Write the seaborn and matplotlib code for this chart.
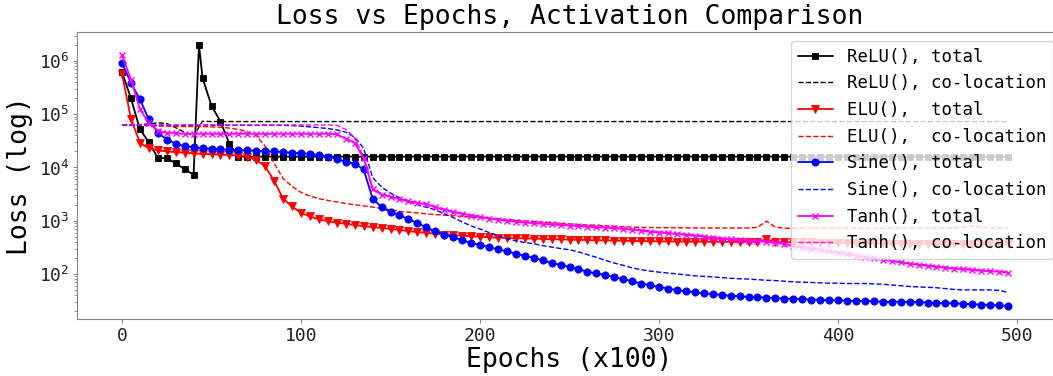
import matplotlib
matplotlib.use("Agg")
import matplotlib.pyplot as plt
import seaborn as sns

# ---------------- data ----------------
epochs = list(range(0, 500, 5))            # x (in units of 100 epochs)
relu_epochs = [0, 5, 10, 15, 20, 25, 30, 35, 40, 43] + list(range(45, 500, 5))

relu_total = [6.2e5, 2.0e5, 5.2e4, 3.0e4, 1.5e4, 1.5e4, 1.2e4, 9.3e3, 7.3e3, 2.0e6,
              4.8e5, 1.45e5, 7.3e4, 2.8e4, 1.6e4, 1.6e4, 1.6e4, 1.6e4, 1.6e4, 1.6e4,
              1.6e4, 1.6e4, 1.6e4, 1.6e4, 1.6e4, 1.6e4, 1.6e4, 1.6e4, 1.6e4, 1.6e4,
              1.6e4, 1.6e4, 1.6e4, 1.6e4, 1.6e4, 1.6e4, 1.6e4, 1.6e4, 1.6e4, 1.6e4,
              1.6e4, 1.6e4, 1.6e4, 1.6e4, 1.6e4, 1.6e4, 1.6e4, 1.6e4, 1.6e4, 1.6e4,
              1.6e4, 1.6e4, 1.6e4, 1.6e4, 1.6e4, 1.6e4, 1.6e4, 1.6e4, 1.6e4, 1.6e4,
              1.6e4, 1.6e4, 1.6e4, 1.6e4, 1.6e4, 1.6e4, 1.6e4, 1.6e4, 1.6e4, 1.6e4,
              1.6e4, 1.6e4, 1.6e4, 1.6e4, 1.6e4, 1.6e4, 1.6e4, 1.6e4, 1.6e4, 1.6e4,
              1.6e4, 1.6e4, 1.6e4, 1.6e4, 1.6e4, 1.6e4, 1.6e4, 1.6e4, 1.6e4, 1.6e4,
              1.6e4, 1.6e4, 1.6e4, 1.6e4, 1.6e4, 1.6e4, 1.6e4, 1.6e4, 1.6e4, 1.6e4,
              1.6e4]

relu_coloc = [6.3e4, 6.3e4, 6.4e4, 6.6e4, 6.9e4, 6.7e4, 5.6e4, 4.6e4, 3.9e4, 7.4e4,
              7.3e4, 7.3e4, 7.3e4, 7.3e4, 7.3e4, 7.3e4, 7.3e4, 7.3e4, 7.3e4, 7.3e4,
              7.3e4, 7.3e4, 7.3e4, 7.3e4, 7.3e4, 7.3e4, 7.3e4, 7.3e4, 7.3e4, 7.3e4,
              7.3e4, 7.3e4, 7.3e4, 7.3e4, 7.3e4, 7.3e4, 7.3e4, 7.3e4, 7.3e4, 7.3e4,
              7.3e4, 7.3e4, 7.3e4, 7.3e4, 7.3e4, 7.3e4, 7.3e4, 7.3e4, 7.3e4, 7.3e4,
              7.3e4, 7.3e4, 7.3e4, 7.3e4, 7.3e4, 7.3e4, 7.3e4, 7.3e4, 7.3e4, 7.3e4,
              7.3e4, 7.3e4, 7.3e4, 7.3e4, 7.3e4, 7.3e4, 7.3e4, 7.3e4, 7.3e4, 7.3e4,
              7.3e4, 7.3e4, 7.3e4, 7.3e4, 7.3e4, 7.3e4, 7.3e4, 7.3e4, 7.3e4, 7.3e4,
              7.3e4, 7.3e4, 7.3e4, 7.3e4, 7.3e4, 7.3e4, 7.3e4, 7.3e4, 7.3e4, 7.3e4,
              7.3e4, 7.3e4, 7.3e4, 7.3e4, 7.3e4, 7.3e4, 7.3e4, 7.3e4, 7.3e4, 7.3e4]

elu_total = [5.7e5, 8.3e4, 2.9e4, 2.3e4, 2.1e4, 2.0e4, 1.95e4, 1.9e4, 1.85e4, 1.8e4,
             1.78e4, 1.75e4, 1.72e4, 1.68e4, 1.6e4, 1.38e4, 1.05e4, 5.6e3, 2.6e3, 1.85e3,
             1.4e3, 1.2e3, 1.06e3, 9.8e2, 9.2e2, 8.7e2, 8.3e2, 7.9e2, 7.6e2, 7.3e2,
             7.0e2, 6.7e2, 6.4e2, 6.1e2, 5.9e2, 5.7e2, 5.5e2, 5.4e2, 5.2e2, 5.1e2,
             5.0e2, 4.9e2, 4.8e2, 4.75e2, 4.7e2, 4.65e2, 4.6e2, 4.55e2, 4.5e2, 4.45e2,
             4.4e2, 4.37e2, 4.34e2, 4.3e2, 4.27e2, 4.24e2, 4.2e2, 4.18e2, 4.15e2, 4.12e2,
             4.1e2, 4.08e2, 4.06e2, 4.05e2, 4.04e2, 4.03e2, 4.02e2, 4.01e2, 4.0e2, 4.0e2,
             4.0e2, 4.0e2, 4.5e2, 3.95e2, 3.94e2, 3.93e2, 3.92e2, 3.9e2, 3.88e2, 3.86e2,
             3.84e2, 3.82e2, 3.8e2, 3.78e2, 3.76e2, 3.74e2, 3.72e2, 3.7e2, 3.69e2, 3.68e2,
             3.67e2, 3.66e2, 3.65e2, 3.64e2, 3.63e2, 3.62e2, 3.61e2, 3.6e2, 3.6e2, 3.6e2]

elu_coloc = [6.2e4, 6.2e4, 6.2e4, 6.1e4, 6.0e4, 6.0e4, 5.9e4, 5.9e4, 5.9e4, 5.9e4,
             5.8e4, 5.7e4, 5.5e4, 5.2e4, 4.7e4, 4.0e4, 2.5e4, 1.2e4, 6.2e3, 4.4e3,
             3.4e3, 2.9e3, 2.6e3, 2.4e3, 2.25e3, 2.1e3, 2.0e3, 1.9e3, 1.8e3, 1.7e3,
             1.6e3, 1.5e3, 1.45e3, 1.4e3, 1.35e3, 1.3e3, 1.27e3, 1.24e3, 1.2e3, 1.17e3,
             1.14e3, 1.11e3, 1.08e3, 1.05e3, 1.02e3, 9.9e2, 9.7e2, 9.4e2, 9.2e2, 8.9e2,
             8.7e2, 8.5e2, 8.3e2, 8.15e2, 8.0e2, 7.85e2, 7.7e2, 7.6e2, 7.5e2, 7.45e2,
             7.4e2, 7.38e2, 7.36e2, 7.34e2, 7.32e2, 7.3e2, 7.3e2, 7.3e2, 7.3e2, 7.3e2,
             7.3e2, 7.5e2, 9.8e2, 7.6e2, 7.2e2, 7.2e2, 7.2e2, 7.2e2, 7.2e2, 7.2e2,
             7.2e2, 7.2e2, 7.2e2, 7.2e2, 7.2e2, 7.2e2, 7.2e2, 7.2e2, 7.2e2, 7.2e2,
             7.2e2, 7.2e2, 7.3e2, 7.4e2, 7.5e2, 8.0e2, 7.5e2, 7.3e2, 7.2e2, 7.2e2]

sine_total = [9.2e5, 3.9e5, 1.9e5, 8.0e4, 4.5e4, 3.35e4, 2.8e4, 2.5e4, 2.4e4, 2.3e4,
              2.25e4, 2.2e4, 2.15e4, 2.1e4, 2.1e4, 2.05e4, 2.0e4, 2.0e4, 1.95e4, 1.9e4,
              1.85e4, 1.8e4, 1.7e4, 1.6e4, 1.45e4, 1.28e4, 1.18e4, 9.2e3, 2.6e3, 1.8e3,
              1.45e3, 1.28e3, 1.07e3, 9.0e2, 7.5e2, 6.3e2, 5.5e2, 4.9e2, 4.3e2, 3.8e2,
              3.5e2, 3.2e2, 2.9e2, 2.65e2, 2.4e2, 2.2e2, 2.0e2, 1.8e2, 1.6e2, 1.48e2,
              1.35e2, 1.22e2, 1.1e2, 1.02e2, 95, 87, 80, 73, 66, 61,
              57, 53, 50, 47, 45, 43, 42, 40, 39, 38,
              37, 36.5, 36, 35, 34.5, 34, 33.5, 33, 32.5, 32,
              32, 31.5, 31, 31, 30.5, 30, 30, 30, 29.5, 29.5,
              29, 28.5, 28, 28, 27.5, 27, 26.5, 26, 25.5, 25]

sine_coloc = [6.2e4, 6.2e4, 6.2e4, 6.2e4, 6.2e4, 6.2e4, 6.2e4, 6.2e4, 6.2e4, 6.2e4,
              6.2e4, 6.2e4, 6.2e4, 6.2e4, 6.2e4, 6.2e4, 6.2e4, 6.2e4, 6.2e4, 6.1e4,
              6.0e4, 5.8e4, 5.6e4, 5.4e4, 5.1e4, 4.6e4, 3.7e4, 2.3e4, 6.5e3, 4.3e3,
              3.3e3, 2.7e3, 2.3e3, 2.0e3, 1.8e3, 1.6e3, 1.35e3, 1.15e3, 9.5e2, 8.0e2,
              7.0e2, 6.0e2, 5.2e2, 4.6e2, 4.2e2, 3.9e2, 3.7e2, 3.4e2, 3.2e2, 3.0e2,
              2.85e2, 2.6e2, 2.3e2, 2.05e2, 1.8e2, 1.6e2, 1.45e2, 1.3e2, 1.2e2, 1.13e2,
              1.08e2, 1.04e2, 1.0e2, 96, 92, 90, 88, 85, 83, 81,
              80, 78, 76, 75, 73, 71, 70, 69, 68, 67,
              67, 66, 66, 66, 65, 64, 62, 60, 58, 57,
              56, 55, 53, 51, 50, 50, 50, 50, 49, 45]

tanh_total = [1.3e6, 4.5e5, 1.25e5, 6.8e4, 4.9e4, 4.5e4, 4.4e4, 4.3e4, 4.3e4, 4.3e4,
              4.3e4, 4.3e4, 4.3e4, 4.3e4, 4.3e4, 4.3e4, 4.3e4, 4.3e4, 4.3e4, 4.3e4,
              4.3e4, 4.3e4, 4.3e4, 4.3e4, 4.2e4, 3.5e4, 2.9e4, 1.5e4, 3.9e3, 3.1e3,
              2.8e3, 2.55e3, 2.3e3, 2.15e3, 2.05e3, 1.8e3, 1.6e3, 1.45e3, 1.35e3, 1.25e3,
              1.18e3, 1.1e3, 1.05e3, 1.0e3, 9.6e2, 9.2e2, 9.0e2, 8.7e2, 8.5e2, 8.3e2,
              8.1e2, 7.9e2, 7.7e2, 7.5e2, 7.4e2, 7.2e2, 7.0e2, 6.8e2, 6.5e2, 6.2e2,
              6.0e2, 5.8e2, 5.6e2, 5.4e2, 5.2e2, 5.0e2, 4.8e2, 4.6e2, 4.45e2, 4.3e2,
              4.2e2, 4.1e2, 4.0e2, 3.8e2, 3.65e2, 3.3e2, 3.1e2, 2.95e2, 2.8e2, 2.65e2,
              2.5e2, 2.35e2, 2.2e2, 2.05e2, 1.95e2, 1.85e2, 1.75e2, 1.65e2, 1.55e2, 1.48e2,
              1.42e2, 1.36e2, 1.3e2, 1.26e2, 1.22e2, 1.18e2, 1.15e2, 1.12e2, 1.1e2, 1.05e2]

tanh_coloc = [6.3e4, 6.3e4, 6.3e4, 6.3e4, 6.3e4, 6.3e4, 6.3e4, 6.3e4, 6.3e4, 6.3e4,
              6.3e4, 6.3e4, 6.3e4, 6.3e4, 6.3e4, 6.3e4, 6.3e4, 6.3e4, 6.3e4, 6.3e4,
              6.3e4, 6.3e4, 6.3e4, 6.3e4, 6.2e4, 5.2e4, 3.6e4, 1.6e4, 4.2e3, 3.2e3,
              2.85e3, 2.6e3, 2.35e3, 2.2e3, 2.05e3, 1.85e3, 1.65e3, 1.5e3, 1.38e3, 1.28e3,
              1.2e3, 1.12e3, 1.07e3, 1.02e3, 9.8e2, 9.4e2, 9.2e2, 8.9e2, 8.7e2, 8.5e2,
              8.3e2, 8.1e2, 7.9e2, 7.7e2, 7.6e2, 7.4e2, 7.2e2, 7.0e2, 6.7e2, 6.4e2,
              6.2e2, 6.0e2, 5.8e2, 5.6e2, 5.4e2, 5.2e2, 5.0e2, 4.8e2, 4.6e2, 4.45e2,
              4.35e2, 4.25e2, 4.1e2, 3.9e2, 3.75e2, 3.4e2, 3.2e2, 3.05e2, 2.9e2, 2.75e2,
              2.6e2, 2.45e2, 2.3e2, 2.15e2, 2.0e2, 1.9e2, 1.8e2, 1.7e2, 1.6e2, 1.52e2,
              1.46e2, 1.4e2, 1.34e2, 1.3e2, 1.26e2, 1.22e2, 1.18e2, 1.15e2, 1.12e2, 1.08e2]

labels = ["ReLU(), total", "ReLU(), co-location",
          "ELU(),  total", "ELU(),  co-location",
          "Sine(), total", "Sine(), co-location",
          "Tanh(), total", "Tanh(), co-location"]
title = "Loss vs Epochs, Activation Comparison"
xlabel = "Epochs (x100)"
ylabel = "Loss (log)"

# ---------------- style ----------------
sns.set_style("ticks")
plt.rcParams["font.family"] = ["DejaVu Sans Mono", "DejaVu Sans"]
plt.rcParams["axes.edgecolor"] = "#888888"
plt.rcParams["xtick.color"] = "#888888"
plt.rcParams["ytick.color"] = "#888888"
plt.rcParams["xtick.labelcolor"] = "#222222"
plt.rcParams["ytick.labelcolor"] = "#222222"
plt.rcParams["text.color"] = "black"
plt.rcParams["axes.labelcolor"] = "black"

W, H = 1053, 376
fig = plt.figure(figsize=(W / 100, H / 100), dpi=100)
# axes deliberately extends a little past the right edge (as in the reference crop)
ax = fig.add_axes([77.25 / W, 57 / H, 984.5 / W, 287 / H])

solid_kw = dict(linewidth=1.3, markeredgewidth=0.6)
dash_kw = dict(linewidth=1.0, linestyle="--")
msizes = {"s": 4.2, "v": 5.2, "o": 5.2, "x": 5.0}

series = [
    (relu_epochs, relu_total, "black", "s", True),
    (epochs, relu_coloc, "black", None, False),
    (epochs, elu_total, "red", "v", True),
    (epochs, elu_coloc, "red", None, False),
    (epochs, sine_total, "blue", "o", True),
    (epochs, sine_coloc, "blue", None, False),
    (epochs, tanh_total, "magenta", "x", True),
    (epochs, tanh_coloc, "magenta", None, False),
]

for (xs, ys, col, mk, solid), lab in zip(series, labels):
    if solid:
        kw = dict(solid_kw)
        if mk == "x":
            kw["markeredgewidth"] = 1.0
        sns.lineplot(x=xs, y=ys, ax=ax, color=col, marker=mk, markeredgecolor=col,
                     markersize=msizes[mk], label=lab, **kw)
    else:
        sns.lineplot(x=xs, y=ys, ax=ax, color=col, label=lab, **dash_kw)

ax.set_yscale("log")
ax.set_xlim(-25, 525)
ax.set_title(title, fontsize=19)
ax.set_xlabel(xlabel, fontsize=19, labelpad=2)
ax.set_ylabel(ylabel, fontsize=19)
ax.tick_params(axis="both", which="major", labelsize=13, length=3, pad=2.5)
ax.tick_params(axis="y", which="minor", length=2)
ax.set_xticks([0, 100, 200, 300, 400, 500])

leg = ax.legend(loc="upper right", fontsize=12.5, framealpha=0.8)

fig.savefig("out.png", dpi=100)
